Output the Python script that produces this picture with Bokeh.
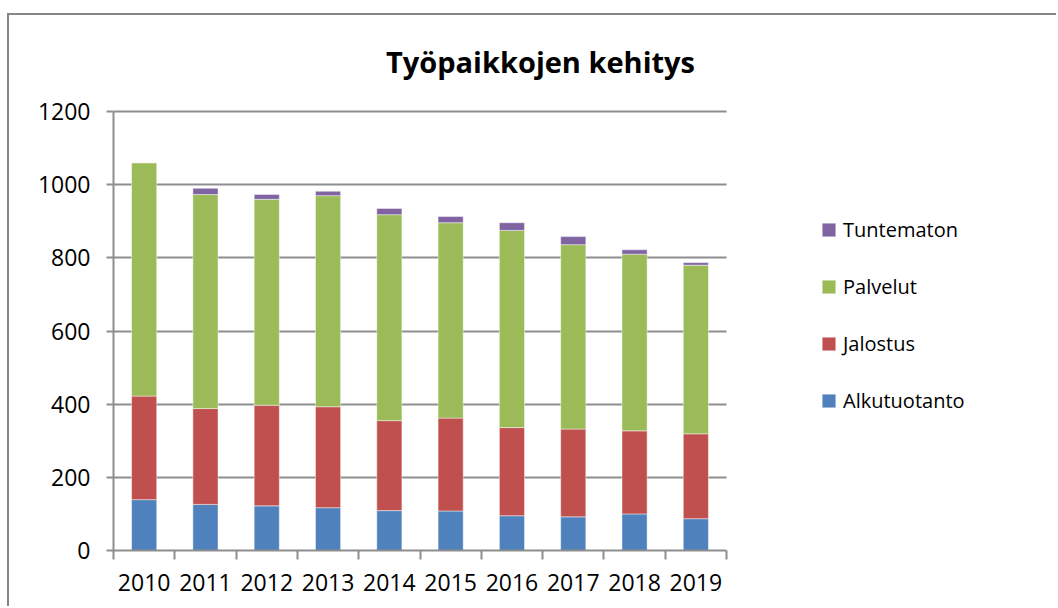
from bokeh.plotting import figure
from bokeh.models import (Range1d, FixedTicker, Legend, LegendItem, Label,
                          ColumnDataSource)
from bokeh.embed import file_html
from bokeh.resources import INLINE

# ---- data ----
years = [2010, 2011, 2012, 2013, 2014, 2015, 2016, 2017, 2018, 2019]
alkutuotanto = [139, 126, 122, 117, 109, 108, 95, 92, 100, 87]
jalostus = [283, 262, 275, 276, 246, 254, 241, 240, 227, 232]
palvelut = [638, 585, 563, 577, 563, 534, 539, 504, 483, 461]
tuntematon = [0, 17, 13, 12, 17, 17, 21, 22, 12, 7]
series = ["Alkutuotanto", "Jalostus", "Palvelut", "Tuntematon"]
colors = ["#4F81BD", "#C0504D", "#9BBB59", "#8064A2"]
y_ticks = [0, 200, 400, 600, 800, 1000, 1200]
title_text = "Työpaikkojen kehitys"

FONT = "Open Sans"
GRID = "#8e8e8e"

# ---- layout (pixels) ----
W, H = 1049, 593              # canvas size
LEFT, BOTTOM = 104, 58         # borders holding the axes
PLOT_W, PLOT_H = 613, 439      # size of the bar area (10 categories, 0..1200)

x0, x1 = years[0] - 0.5, years[-1] + 0.5
px_per_x = PLOT_W / (x1 - x0)
px_per_y = PLOT_H / (y_ticks[-1] - y_ticks[0])
frame_w, frame_h = W - LEFT, H - BOTTOM
x_end = x0 + frame_w / px_per_x
y_end = y_ticks[0] + frame_h / px_per_y

source = ColumnDataSource(dict(
    x=years,
    Alkutuotanto=alkutuotanto,
    Jalostus=jalostus,
    Palvelut=palvelut,
    Tuntematon=tuntematon,
))

p = figure(width=W, height=H, output_backend="svg", toolbar_location=None,
           x_range=Range1d(x0, x_end), y_range=Range1d(y_ticks[0], y_end),
           min_border_left=LEFT, min_border_right=0,
           min_border_top=0, min_border_bottom=BOTTOM)
p.outline_line_color = None
p.background_fill_color = "white"
p.border_fill_color = "white"
# outer chart border (only left and top edges visible in the reference)
p.styles = {"margin-left": "7px", "margin-top": "13px",
            "border-left": "2px solid #868686", "border-top": "2px solid #868686"}

renderers = p.vbar_stack(series, x="x", width=0.41, color=colors, source=source,
                         line_color="white", line_alpha=0.45, line_width=1)

# x axis: labels at year centres, ticks at category boundaries
bounds = [y - 0.5 for y in years] + [years[-1] + 0.5]
xa = p.xaxis[0]
xa.bounds = (x0, x1)
xa.ticker = FixedTicker(ticks=years, minor_ticks=bounds)
xa.major_tick_out = 0
xa.major_tick_in = 0
xa.minor_tick_out = 9
xa.minor_tick_in = 0
xa.minor_tick_line_color = GRID
xa.minor_tick_line_width = 2
xa.axis_line_color = GRID
xa.axis_line_width = 2
xa.major_label_text_font = FONT
xa.major_label_text_font_size = "23px"
xa.major_label_text_color = "black"
xa.major_label_standoff = 14

ya = p.yaxis[0]
ya.bounds = (y_ticks[0], y_ticks[-1])
ya.ticker = FixedTicker(ticks=y_ticks)
ya.major_tick_out = 7
ya.major_tick_in = 0
ya.minor_tick_out = 0
ya.minor_tick_in = 0
ya.major_tick_line_color = GRID
ya.major_tick_line_width = 2
ya.axis_line_color = GRID
ya.axis_line_width = 2
ya.major_label_text_font = FONT
ya.major_label_text_font_size = "23px"
ya.major_label_text_color = "black"
ya.major_label_standoff = 16

p.xgrid.grid_line_color = None
p.ygrid.grid_line_color = GRID
p.ygrid.grid_line_width = 2
p.ygrid.ticker = FixedTicker(ticks=y_ticks)
p.ygrid.bounds = (y_ticks[0], y_ticks[-1])
p.ygrid.cross_bounds = (x0, x1)

# legend (top item = last stacked series), placed right of the bars
items = [LegendItem(label=s, renderers=[r]) for s, r in zip(series, renderers)][::-1]
legend = Legend(items=items, location=(707, 136), padding=0, margin=0,
                spacing=30, glyph_width=17, glyph_height=17, label_height=17,
                label_standoff=6, label_text_font=FONT, label_text_font_size="20px",
                label_text_color="black", border_line_color=None,
                background_fill_alpha=0)
p.add_layout(legend, "center")

# title, centred over the whole chart
title = Label(x=x0 + (531 - LEFT) / px_per_x, y=y_ticks[0] + (H - BOTTOM - 46) / px_per_y,
              text=title_text, text_align="center", text_baseline="alphabetic",
              text_font=FONT, text_font_style="bold", text_font_size="29px",
              text_color="black")
p.add_layout(title)

open("out.html", "w").write(file_html(p, INLINE))
